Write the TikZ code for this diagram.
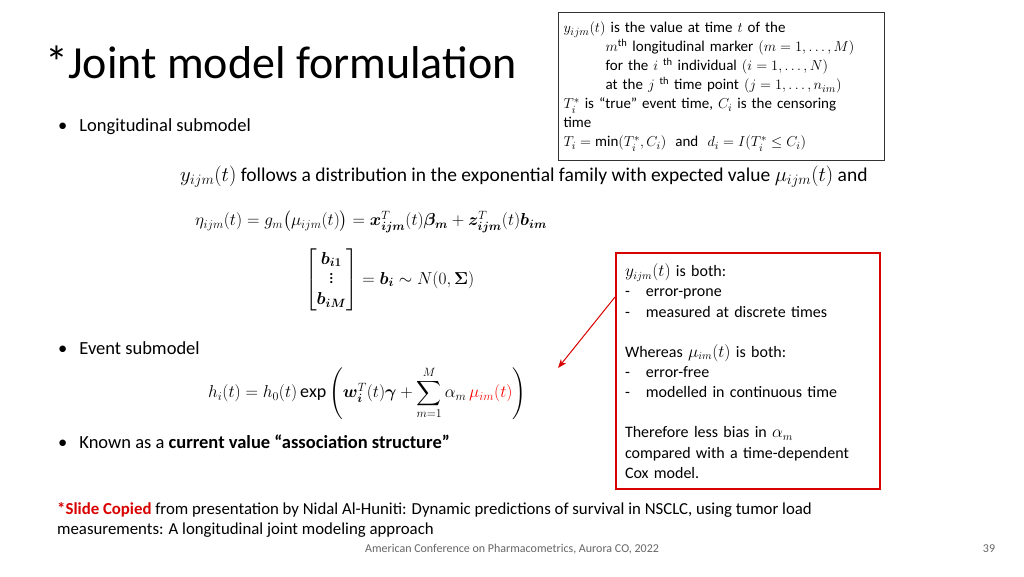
\documentclass[tikz,border=0pt]{standalone}
\usetikzlibrary{arrows.meta}
\usepackage{amsmath,bm}
\usepackage{fontspec}
\setmainfont{Carlito}
\begin{document}
\begin{tikzpicture}[x=1pt,y=-1pt,
  txt/.style={anchor=west,inner sep=0pt,font=\fontsize{18.5}{22}\selectfont}]
\useasboundingbox[fill=white] (0,0) rectangle (1024,576);
\node[anchor=west,inner sep=0pt,font=\fontsize{46}{52}\selectfont] (title) at (45,62) {*Joint model formulation};
\node[txt] (b1) at (58,127) {\textbullet\hspace{12pt}Longitudinal submodel};
\node[txt] (b2) at (58,348) {\textbullet\hspace{12pt}Event submodel};
\node[txt] (b3) at (58,442) {\textbullet\hspace{12pt}Known as a \textbf{current value “association structure”}};
\node[txt,font=\fontsize{19.5}{22}\selectfont] (e1) at (180,177) {$y_{ijm}(t)$ follows a distribution in the exponential family with expected value $\mu_{ijm}(t)$ and};
\node[txt,font=\fontsize{18}{22}\selectfont] (e2) at (195,222) {$\eta_{ijm}(t)=g_m\bigl(\mu_{ijm}(t)\bigr)=\bm{x}^T_{\bm{ijm}}(t)\bm{\beta}_{\bm m}+\bm{z}^T_{\bm{ijm}}(t)\bm{b}_{\bm{im}}$};
\node[txt,font=\fontsize{18}{22}\selectfont] (e3) at (305,280) {$\begin{bmatrix}\bm{b}_{\bm{i1}}\\[-3pt] \vdots\\[-1pt] \bm{b}_{\bm{iM}}\end{bmatrix}=\bm{b}_{\bm i}\sim N(0,\bm{\Sigma})$};
\node[txt,font=\fontsize{18}{22}\selectfont] (e4) at (208,393) {$h_i(t)=h_0(t)\exp\left(\bm{w}^T_{\bm i}(t)\bm{\gamma}+\displaystyle\sum_{m=1}^{M}\alpha_m\,\textcolor{red}{\mu_{im}(t)}\right)$};
\coordinate (mu) at (558,368);
\node[draw=black!80,line width=1.2pt,anchor=north west,inner sep=5pt,text width=316pt,minimum height=148pt,align=left,font=\fontsize{15}{19}\selectfont] (box1) at (558,12) {$y_{ijm}(t)$ is the value at time $t$ of the\\
\hspace{42pt}$m^{\text{th}}$ longitudinal marker $(m=1,\dots,M)$\\
\hspace{42pt}for the $i$ \textsuperscript{th} individual $(i=1,\dots,N)$\\
\hspace{42pt}at the $j$ \textsuperscript{th} time point $(j=1,\dots,n_{im})$\\
$T_i^*$ is “true” event time, $C_i$ is the censoring\\time\\
$T_i=\min(T_i^*,C_i)$ \;and\; $d_i=I(T_i^*\le C_i)$};
\node[draw=red!85!black,line width=2pt,anchor=north west,inner sep=9pt,text width=246pt,minimum height=236pt,align=left,font=\fontsize{16}{20.2}\selectfont] (box2) at (615,252) {$y_{ijm}(t)$ is both:\\
-\hspace{16pt}error-prone\\
-\hspace{16pt}measured at discrete times\\[20pt]
Whereas $\mu_{im}(t)$ is both:\\
-\hspace{16pt}error-free\\
-\hspace{16pt}modelled in continuous time\\[20pt]
Therefore less bias in $\alpha_m$\\
compared with a time-dependent\\
Cox model.};
\draw[red!85!black,line width=1pt,-{Stealth[length=9pt]}] (box2.west |- 0,297) -- (mu);
\node[anchor=north west,inner sep=0pt,align=left,font=\fontsize{16.8}{20.5}\selectfont] (cite) at (57,502) {\textcolor{red!85!black}{\textbf{*Slide Copied}} from presentation by Nidal Al-Huniti: Dynamic predictions of survival in NSCLC, using tumor load\\measurements: A longitudinal joint modeling approach};
\node[inner sep=0pt,font=\fontsize{12}{13}\selectfont,text=black!60] (foot) at (512,549) {American Conference on Pharmacometrics, Aurora CO, 2022};
\node[inner sep=0pt,font=\fontsize{12}{13}\selectfont,text=black!60] (pg) at (989,549) {39};
\end{tikzpicture}
\end{document}
